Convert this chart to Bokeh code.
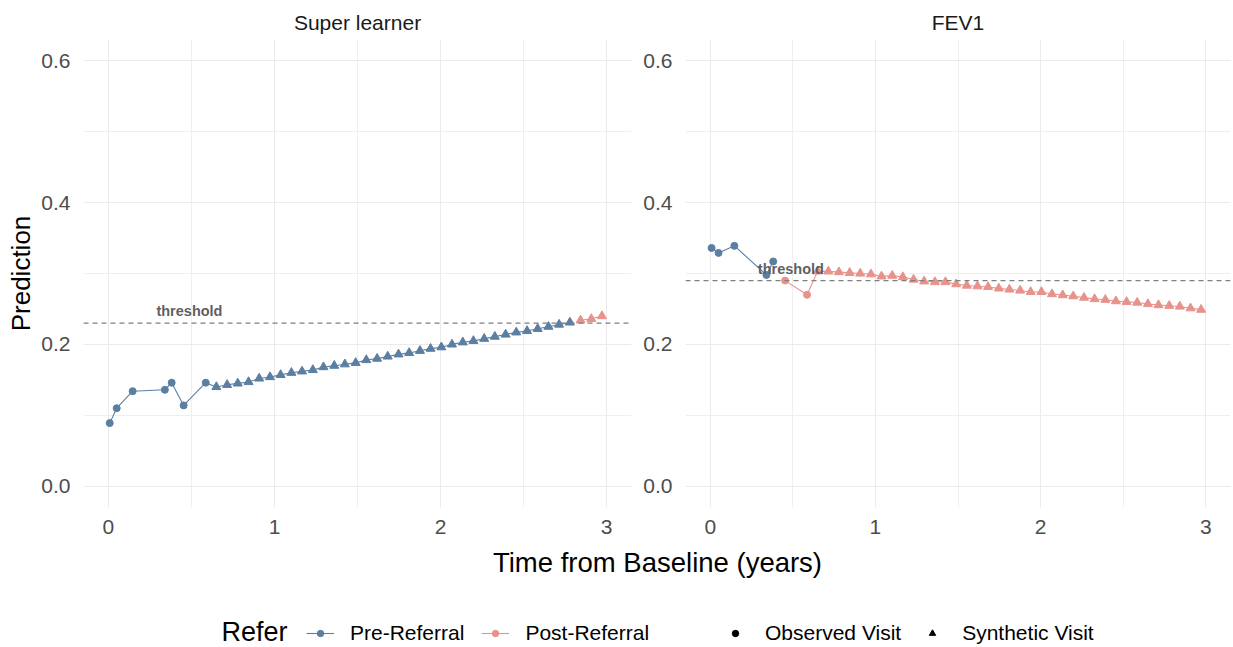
from bokeh.plotting import figure
from bokeh.models import (Range1d, FixedTicker, Legend, LegendItem, Span,
                          CustomJSTickFormatter)
from bokeh.layouts import column, row
from bokeh.core.properties import value
from bokeh.embed import file_html
from bokeh.resources import INLINE

# ---------------- data ----------------
panel_titles = ["Super learner", "FEV1"]
thresholds = [0.23, 0.29]

obs_time = [0.008, 0.050, 0.146, 0.340, 0.381, 0.453, 0.586]
sl_obs_pred = [0.089, 0.110, 0.134, 0.136, 0.146, 0.114, 0.146]
sl_obs_refer = ["Pre"] * 7
fev_obs_pred = [0.336, 0.329, 0.339, 0.298, 0.317, 0.290, 0.270]
fev_obs_refer = ["Pre", "Pre", "Pre", "Pre", "Pre", "Post", "Post"]

syn_time = [0.650, 0.715, 0.779, 0.844, 0.908, 0.973, 1.037, 1.102, 1.166, 1.231,
            1.295, 1.360, 1.424, 1.489, 1.553, 1.618, 1.682, 1.747, 1.811, 1.876,
            1.940, 2.005, 2.069, 2.134, 2.198, 2.263, 2.327, 2.392, 2.456, 2.521,
            2.585, 2.650, 2.714, 2.779, 2.843, 2.908, 2.972]
sl_syn_pred = [0.140, 0.143, 0.145, 0.147, 0.152, 0.154, 0.157, 0.160, 0.162, 0.164,
               0.168, 0.170, 0.172, 0.174, 0.178, 0.180, 0.183, 0.186, 0.188, 0.191,
               0.194, 0.196, 0.200, 0.203, 0.205, 0.208, 0.211, 0.214, 0.217, 0.219,
               0.222, 0.225, 0.228, 0.231, 0.234, 0.236, 0.240]
sl_syn_refer = ["Pre"] * 34 + ["Post"] * 3
fev_syn_pred = [0.303, 0.303, 0.302, 0.301, 0.300, 0.299, 0.296, 0.297, 0.295, 0.2915,
                0.289, 0.288, 0.288, 0.285, 0.283, 0.282, 0.281, 0.279, 0.2775, 0.276,
                0.274, 0.274, 0.271, 0.2695, 0.268, 0.266, 0.264, 0.263, 0.261, 0.260,
                0.259, 0.257, 0.2555, 0.2545, 0.2535, 0.251, 0.249]
fev_syn_refer = ["Post"] * 37

x_ticks = [0, 1, 2, 3]
x_minor = [0.5, 1.5, 2.5]
y_ticks = [0.0, 0.2, 0.4, 0.6]
y_minor = [0.1, 0.3, 0.5]

refer_levels = ["Pre", "Post"]
refer_labels = ["Pre-Referral", "Post-Referral"]
colors = {"Pre": "#5B7FA3", "Post": "#E8928C"}
threshold_label = "threshold"
threshold_label_x = 0.488

FONT = "Liberation Sans"

panel_data = [
    (sl_obs_pred, sl_obs_refer, sl_syn_pred, sl_syn_refer),
    (fev_obs_pred, fev_obs_refer, fev_syn_pred, fev_syn_refer),
]


def make_panel(i):
    obs_pred, obs_refer, syn_pred, syn_refer = panel_data[i]
    first = i == 0
    p = figure(width=640 if first else 593, height=540,
               x_range=Range1d(-0.15, 3.15), y_range=Range1d(-0.03, 0.63),
               output_backend="svg", toolbar_location=None,
               min_border_left=83 if first else 44, min_border_right=9 if first else 3,
               min_border_top=39, min_border_bottom=33)
    p.outline_line_color = None
    p.background_fill_color = "white"
    p.border_fill_color = "white"

    p.title.text = panel_titles[i]
    p.title.align = "center"
    p.title.text_font = FONT
    p.title.text_font_size = "21px"
    p.title.text_font_style = "normal"
    p.title.text_color = "#1A1A1A"
    p.title.standoff = 12

    p.xaxis.ticker = FixedTicker(ticks=x_ticks, minor_ticks=x_minor)
    p.yaxis.ticker = FixedTicker(ticks=y_ticks, minor_ticks=y_minor)
    p.yaxis.formatter = CustomJSTickFormatter(code="return tick.toFixed(1);")
    for ax in (p.xaxis, p.yaxis):
        ax.axis_line_color = None
        ax.major_tick_line_color = None
        ax.minor_tick_line_color = None
        ax.major_tick_out = 0
        ax.major_tick_in = 0
        ax.minor_tick_out = 0
        ax.minor_tick_in = 0
        ax.major_label_text_font = FONT
        ax.major_label_text_font_size = "21px"
        ax.major_label_text_color = "#4D4D4D"
    p.xaxis.major_label_standoff = 12
    p.yaxis.major_label_standoff = 13
    if first:
        p.yaxis.axis_label = "Prediction"
        p.yaxis.axis_label_text_font = FONT
        p.yaxis.axis_label_text_font_size = "26px"
        p.yaxis.axis_label_text_font_style = "normal"
        p.yaxis.axis_label_text_color = "black"
        p.yaxis.axis_label_standoff = 2

    for g in (p.xgrid, p.ygrid):
        g.grid_line_color = "#EBEBEB"
        g.grid_line_width = 1.1
        g.minor_grid_line_color = "#EDEDED"
        g.minor_grid_line_width = 0.9

    # combine observed + synthetic rows
    t_all = obs_time + syn_time
    y_all = obs_pred + syn_pred
    r_all = obs_refer + syn_refer
    kind = ["obs"] * len(obs_time) + ["syn"] * len(syn_time)

    for lev in refer_levels:
        pts = sorted([(t, y) for t, y, r in zip(t_all, y_all, r_all) if r == lev])
        if len(pts) > 1:
            p.line([a for a, _ in pts], [b for _, b in pts], line_color=colors[lev], line_width=1.1)
    for lev in refer_levels:
        for k, mk, sz in (("obs", "circle", 7), ("syn", "triangle", 9)):
            xs = [t for t, r, kk in zip(t_all, r_all, kind) if r == lev and kk == k]
            ys = [y for y, r, kk in zip(y_all, r_all, kind) if r == lev and kk == k]
            if xs:
                p.scatter(xs, ys, marker=mk, size=sz, fill_color=colors[lev], line_color=colors[lev])

    thr = thresholds[i]
    p.add_layout(Span(location=thr, dimension="width", line_color="#7F7F7F",
                      line_width=1.1, line_dash="5 4"))
    p.text(x=[threshold_label_x], y=[thr + 0.017], text=[threshold_label], text_align="center",
           text_baseline="middle", text_font=value(FONT), text_font_size="14.5px",
           text_font_style="bold", text_color="#5F5F5F")
    return p


p1 = make_panel(0)
p2 = make_panel(1)

# bottom strip: shared x-axis title and legends
p3 = figure(width=1233, height=107, x_range=Range1d(0, 1233), y_range=Range1d(0, 107),
            output_backend="svg", toolbar_location=None, x_axis_type=None, y_axis_type=None,
            min_border=0)
p3.outline_line_color = None
p3.xgrid.visible = False
p3.ygrid.visible = False
# renderers feeding the legend keys live on a range far outside the visible frame
p3.extra_y_ranges = {"offscreen": Range1d(50, 51)}

p3.text(x=[657], y=[85], text=["Time from Baseline (years)"], text_align="center",
        text_baseline="middle", text_font=value(FONT), text_font_size="27.5px", text_color="black")
p3.text(x=[221], y=[16], text=["Refer"], text_align="left",
        text_baseline="middle", text_font=value(FONT), text_font_size="27px", text_color="black")

legend_src = {"Pre": (obs_time, sl_obs_pred), "Post": (syn_time, fev_syn_pred)}
items1 = []
for lev, lab in zip(refer_levels, refer_labels):
    xs, ys = legend_src[lev]
    rl = p3.line(xs, ys, y_range_name="offscreen", line_color=colors[lev], line_width=1.1)
    rs = p3.scatter(xs, ys, y_range_name="offscreen", marker="circle", size=7,
                    fill_color=colors[lev], line_color=colors[lev])
    items1.append(LegendItem(label=lab, renderers=[rl, rs]))
shape_labels = ["Observed Visit", "Synthetic Visit"]
shape_markers = ["circle", "triangle"]
shape_src = [(obs_time, sl_obs_pred), (syn_time, sl_syn_pred)]
items2 = []
for lab, mk, (xs, ys) in zip(shape_labels, shape_markers, shape_src):
    rs = p3.scatter(xs, ys, y_range_name="offscreen", marker=mk, size=7,
                    fill_color="black", line_color="black")
    items2.append(LegendItem(label=lab, renderers=[rs]))

for items, xloc in ((items1, 306), (items2, 721)):
    leg = Legend(items=items, orientation="horizontal", location=(xloc, 2),
                 padding=0, margin=0, spacing=17, glyph_width=28, glyph_height=16,
                 label_standoff=16, label_text_font=FONT, label_text_font_size="21px",
                 label_text_color="black", border_line_color=None, background_fill_alpha=0)
    p3.add_layout(leg, "center")

layout = column(row(p1, p2), p3)
open("out.html", "w").write(file_html(layout, INLINE))
